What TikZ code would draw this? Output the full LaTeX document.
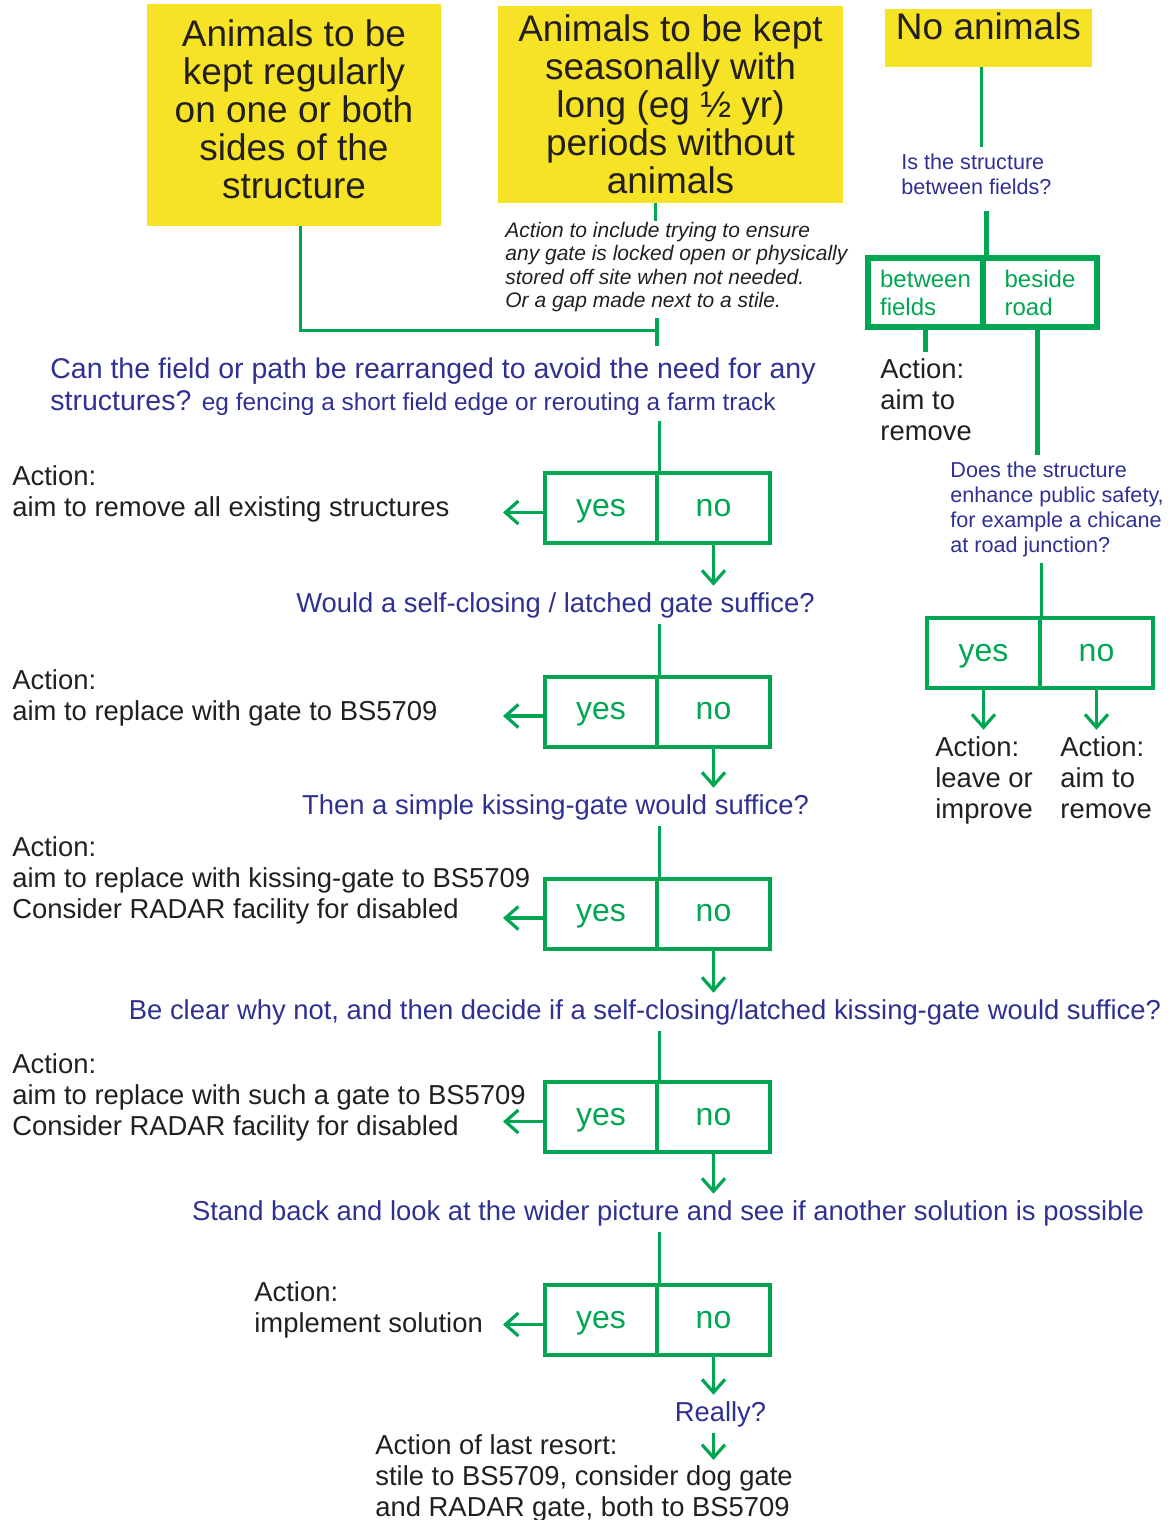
\documentclass[tikz,border=0pt]{standalone}
\usepackage{fontspec}
\setmainfont{Liberation Sans}
\usetikzlibrary{arrows.meta}
\definecolor{gateGreen}{HTML}{00A651}
\definecolor{askBlue}{HTML}{2E3192}
\definecolor{fieldYellow}{HTML}{F7E325}
\definecolor{inkGrey}{HTML}{231F20}

\begin{document}
\begin{tikzpicture}[x=0.5pt, y=-0.5pt,
  herd/.style={fill=fieldYellow, text=inkGrey, align=center, inner sep=0pt, font=\fontsize{18.5}{19}\selectfont},
  ask/.style={text=askBlue, inner xsep=0pt, inner ysep=3pt, font=\fontsize{13.7}{15.5}\selectfont},
  smallask/.style={ask, align=left, font=\fontsize{10.8}{12.5}\selectfont},
  action/.style={text=inkGrey, align=left, inner xsep=0pt, inner ysep=3pt, font=\fontsize{13.7}{15.5}\selectfont},
  choice/.style={draw=gateGreen, line width=2pt, text=gateGreen, minimum width=56.25pt, minimum height=35pt, inner sep=0pt, text height=11.5pt, text depth=3.5pt, font=\fontsize{16}{18}\selectfont},
  cell/.style={draw=gateGreen, line width=3pt, text=gateGreen, align=left, minimum height=34.5pt, inner sep=0pt, font=\fontsize{12}{14}\selectfont},
  flowline/.style={draw=gateGreen, line width=1.6pt},
  flowarrow/.style={flowline, -{Straight Barb[length=6.5pt, width=11.5pt]}},
]
  \useasboundingbox (0,0) rectangle (1175,1520);

  % the three starting cases
  \node[herd, minimum width=147pt, minimum height=111pt, text depth=5.5pt] at (294,115) (regular) {Animals to be\\kept regularly\\on one or both\\sides of the\\structure};
  \node[herd, minimum width=172.5pt, minimum height=98.5pt] at (670.5,104.5) (seasonal) {Animals to be kept\\seasonally with\\long (eg ½ yr)\\periods without\\animals};
  \node[herd, minimum width=103.5pt, minimum height=29pt, text depth=11.5pt] at (988.5,38) (noanimals) {No animals};

  \node[anchor=base west, align=left, text=inkGrey, inner sep=0pt, font=\itshape\fontsize{10.5}{11.75}\selectfont] at (505,307.5) (note) {Action to include trying to ensure\\any gate is locked open or physically\\stored off site when not needed.\\Or a gap made next to a stile.};

  \coordinate (bend) at (657,330);
  \coordinate (stubTop) at (657,318);
  \coordinate (stubEnd) at (657,346);
  \draw[flowline, line width=1.5pt] ([xshift=3pt]regular.south) |- (bend);
  \draw[flowline] (stubTop) -- (stubEnd);
  \draw[flowline] ([xshift=-7.5pt]seasonal.south) -- ([xshift=-7.5pt]seasonal.south |- note.north);

  % questions down the middle
  \node[ask, anchor=base west, align=left, font=\fontsize{14.25}{16}\selectfont] at (50,410) (q1) {Can the field or path be rearranged to avoid the need for any\\structures? {\fontsize{12.2}{16}\selectfont eg fencing a short field edge or rerouting a farm track}};
  \node[ask, anchor=base] at (555.5,612) (q2) {Would a self-closing / latched gate suffice?};
  \node[ask, anchor=base] at (555.5,814) (q3) {Then a simple kissing-gate would suffice?};
  \node[ask, anchor=base] at (645,1019) (q4) {Be clear why not, and then decide if a self-closing/latched kissing-gate would suffice?};
  \node[ask, anchor=base] at (668,1220) (q5) {Stand back and look at the wider picture and see if another solution is possible};
  \node[ask, anchor=base] at (720.5,1421) (q6) {Really?};

  % actions on the left
  \node[action, anchor=base west] at (12,516) (act1) {Action:\\aim to remove all existing structures};
  \node[action, anchor=base west] at (12,720) (act2) {Action:\\aim to replace with gate to BS5709};
  \node[action, anchor=base west] at (12,918) (act3) {Action:\\aim to replace with kissing-gate to BS5709\\Consider RADAR facility for disabled};
  \node[action, anchor=base west] at (12,1135) (act4) {Action:\\aim to replace with such a gate to BS5709\\Consider RADAR facility for disabled};
  \node[action, anchor=base west] at (254,1332) (act5) {Action:\\implement solution};
  \node[action, anchor=base west] at (375,1516) (last) {Action of last resort:\\stile to BS5709, consider dog gate\\and RADAR gate, both to BS5709};

  \foreach \r/\yc [evaluate=\r as \n using int(\r+1)] in {1/508, 2/711.5, 3/913.5, 4/1117, 5/1320} {
    \node[choice] at (601,\yc) (yes\r) {yes};
    \node[choice] at (713.5,\yc) (no\r) {no};
    \coordinate (tip\r) at (503,\yc+4.5);
    \draw[flowline] (q\r.south -| yes\r.north east) -- (yes\r.north east);
    \draw[flowarrow] (yes\r.west |- tip\r) -- (tip\r);
    \draw[flowarrow] (no\r.south) -- (no\r.south |- q\n.north);
  }
  \coordinate (lastTip) at (713.5,1460);
  \draw[flowarrow] (q6.south -| no5.south) -- (lastTip);

  % no animals branch
  \node[smallask, anchor=base west] at (901,194) (qfields) {Is the structure\\between fields?};
  \draw[flowline, line width=1.5pt] ([xshift=-3.75pt]noanimals.south) -- ([xshift=-3.75pt]noanimals.south |- qfields.north);
  \node[cell, minimum width=57.5pt] at (925.5,292.5) (between) {between\\fields};
  \node[cell, minimum width=57pt] at (1040,292.5) (beside) {beside\\road};
  \draw[flowline, line width=2.5pt, shorten <=5pt] (between.north east |- qfields.south) -- (between.north east);
  \node[action, anchor=base west] at (880,440) (actrem) {Action:\\aim to\\remove};
  \draw[flowline, line width=2.5pt] (between.south) -- (between.south |- actrem.north);
  \node[smallask, anchor=base west] at (950,552) (qsafety) {Does the structure\\enhance public safety,\\for example a chicane\\at road junction?};
  \draw[flowline, line width=2.5pt] ([xshift=-1.5pt]beside.south) -- ([xshift=-1.5pt]beside.south |- qsafety.north);
  \node[choice] at (983.5,653) (yes6) {yes};
  \node[choice] at (1096.5,653) (no6) {no};
  \draw[flowline] (qsafety.south -| yes6.north east) -- (yes6.north east);
  \node[action, anchor=base west] at (935,818) (actleave) {Action:\\leave or\\improve};
  \node[action, anchor=base west] at (1060,818) (actgo) {Action:\\aim to\\remove};
  \draw[flowarrow] (yes6.south) -- (yes6.south |- actleave.north);
  \draw[flowarrow] (no6.south) -- (no6.south |- actgo.north);
\end{tikzpicture}
\end{document}
